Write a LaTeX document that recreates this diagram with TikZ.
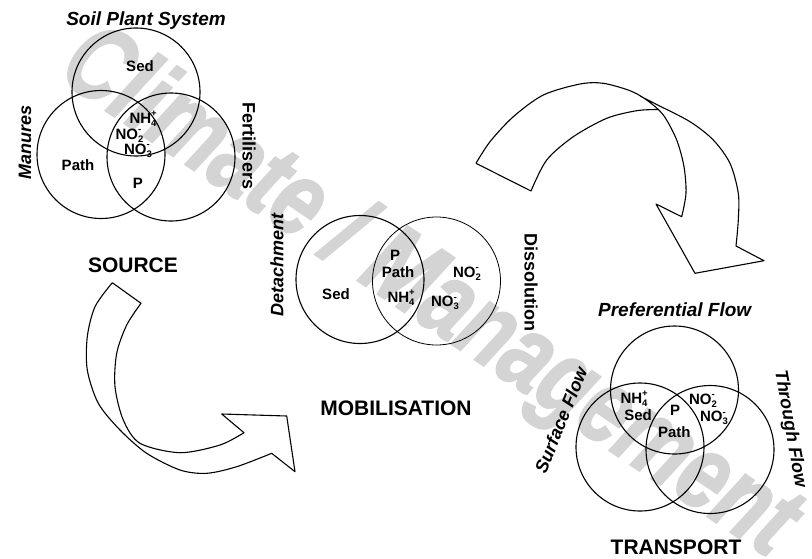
\documentclass[tikz,border=0pt]{standalone}
\usepackage{fontspec}
\setmainfont{Liberation Sans}
\newfontfamily\wmfont[FakeBold=2]{Liberation Sans Bold Italic}
\definecolor{wm}{RGB}{212,212,212}
\newcommand\myion[3]{#1\begingroup\fontsize{9.5}{9.5}\selectfont\rlap{\raisebox{-3pt}{#2}}\rlap{\raisebox{6.5pt}{#3}}\phantom{#2}\endgroup}
\begin{document}
\begin{tikzpicture}[x=1pt,y=-1pt,
  ring/.style={draw, circle, line width=1.1pt, minimum size=128pt, inner sep=0pt},
  thinring/.style={ring, line width=0.8pt},
  lbl/.style={font=\fontsize{15}{15}\selectfont\bfseries, inner sep=0pt, anchor=base},
  side/.style={font=\fontsize{18}{18}\selectfont\bfseries\itshape, inner sep=0pt},
  sideup/.style={font=\fontsize{18}{18}\selectfont\bfseries, inner sep=0pt},
  heading/.style={font=\fontsize{21}{21}\selectfont\bfseries, inner sep=0pt, anchor=base},
  title/.style={font=\fontsize{19}{19}\selectfont\bfseries\itshape, inner sep=0pt, anchor=base},
  band/.style={line width=1.1pt, line join=round}]
\useasboundingbox (0,0) rectangle (812,558);
% watermark
\node[wm, font=\fontsize{106}{106}\wmfont, rotate=-34, xscale=0.77, inner sep=0pt] (wmark) at (428,295) {Climate / Management};
% SOURCE
\node[ring] (s1) at (136,92) {};
\node[ring] (s2) at (101,154.5) {};
\node[ring] (s3) at (171,157) {};
\node[title] (spsys) at (146,25) {Soil Plant System};
\node[lbl] (ssed) at (140,71) {Sed};
\node[lbl] (snh) at (143,123) {\myion{NH}{4}{+}};
\node[lbl] (sno2) at (129.5,139) {\myion{NO}{2}{-}};
\node[lbl] (sno3) at (138,154) {\myion{NO}{3}{-}};
\node[lbl] (spath) at (78,170) {Path};
\node[lbl] (sp) at (138,188) {P};
\node[side, rotate=90] (manures) at (25,142) {Manures};
\node[sideup, rotate=-90] (fert) at (249,146) {Fertilisers};
\node[heading] (source) at (133,272.7) {SOURCE};
% MOBILISATION
\node[ring] (m1) at (360,279.5) {};
\node[thinring] (m2) at (436.5,281) {};
\node[lbl] (mp) at (395,260) {P};
\node[lbl] (mpath) at (398,277.3) {Path};
\node[lbl] (mnh) at (401,302.3) {\myion{NH}{4}{+}};
\node[lbl] (msed) at (336,299.3) {Sed};
\node[lbl] (mno2) at (467,277.3) {\myion{NO}{2}{-}};
\node[lbl] (mno3) at (445,306.7) {\myion{NO}{3}{-}};
\node[side, rotate=90] (detach) at (277,265) {Detachment};
\node[sideup, rotate=-90] (dissol) at (531,282) {Dissolution};
\node[heading] (mobil) at (396,415) {MOBILISATION};
% TRANSPORT
\node[ring] (t1) at (674.5,390) {};
\node[ring] (t2) at (640,447) {};
\node[ring] (t3) at (710,449.5) {};
\node[title] (pref) at (674.7,316.7) {Preferential Flow};
\node[lbl] (tnh) at (634,403.3) {\myion{NH}{4}{+}};
\node[lbl] (tsed) at (638,420) {Sed};
\node[lbl] (tp) at (675,415) {P};
\node[lbl] (tpath) at (674.3,437.3) {Path};
\node[lbl] (tno2) at (703,404) {\myion{NO}{2}{-}};
\node[lbl] (tno3) at (714,421.7) {\myion{NO}{3}{-}};
\node[side, rotate=68] (surf) at (561,420) {Surface Flow};
\node[side, rotate=-80] (through) at (790,429) {Through Flow};
\node[heading] (transport) at (676,554) {TRANSPORT};
% left curved arrow
\draw[band] plot[smooth] coordinates {(112.3,282.7) (95,306.7) (87.3,336.7) (87.3,370) (98.3,403.3) (120,430) (146.7,453.3) (180,470) (206.7,473.3) (236.7,466.7) (271.7,453.3)}
  -- (295,471.7) -- (286.7,416) -- (221.7,414) -- (244,432.7)
  -- plot[smooth] coordinates {(244,432.7) (220,445) (180,452.7) (140,443.3) (123.3,420) (115,386.7) (116.7,353.3) (126.7,325) (141,303.3)} -- cycle;
% right curved arrow
\draw[band] plot[smooth] coordinates {(476,163.3) (490,141.7) (513.3,116.7) (543.3,95) (580,84) (603.3,83.3) (630,90.7) (646.7,100) (663.3,115) (676.7,140) (684,166.7) (686,193.3) (681.7,216.7)}
  -- (656,204) -- (695,273.3) -- (764,260.7) -- (736,246)
  -- plot[smooth] coordinates {(736,246) (738.3,220) (738.3,193.3) (730,163.3) (713.3,140) (690,121.7) (656.7,104.5) (640,96)};
\draw[band] (476,163.3) -- plot[smooth] coordinates {(531,191) (546.7,160) (573.3,136.7) (606.7,118.3) (636.7,110.7) (658,109.5)};
\end{tikzpicture}
\end{document}
